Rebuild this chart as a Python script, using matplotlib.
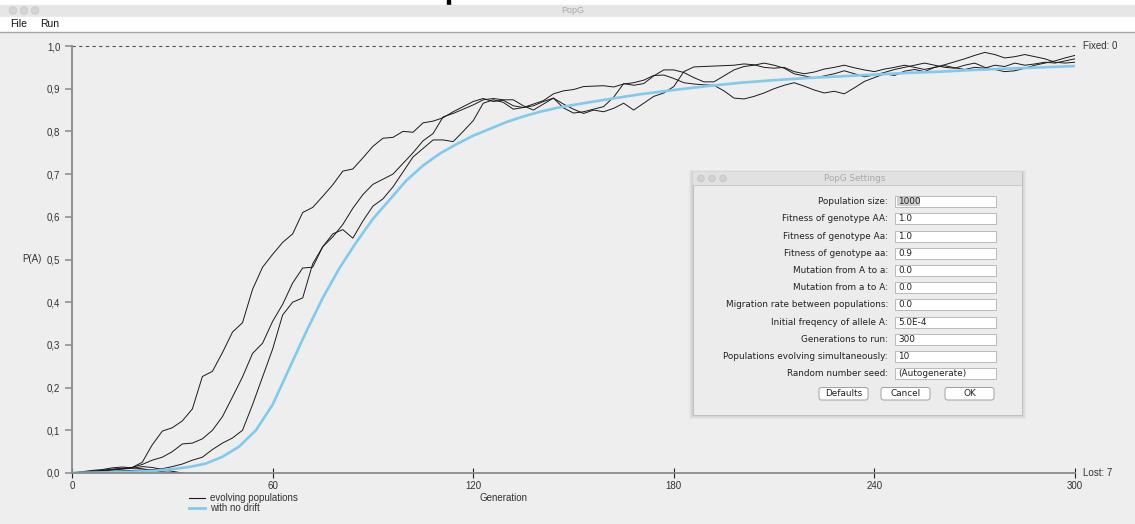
import matplotlib
matplotlib.use("Agg")
from matplotlib import pyplot as plt
from matplotlib.patches import Rectangle, FancyBboxPatch, Circle
from matplotlib.lines import Line2D

plt.rcParams['font.family'] = ['Liberation Sans', 'DejaVu Sans']

# --- values ---
generation = list(range(0, 301, 3))

pop_a = [0.0005, 0.002, 0.004, 0.006, 0.009, 0.011, 0.013, 0.025, 0.066, 0.098,
         0.106, 0.122, 0.150, 0.226, 0.238, 0.282, 0.330, 0.352, 0.430, 0.482,
         0.512, 0.540, 0.560, 0.610, 0.622, 0.648, 0.675, 0.707, 0.712, 0.738,
         0.765, 0.784, 0.786, 0.800, 0.798, 0.820, 0.824, 0.832, 0.846, 0.858,
         0.870, 0.877, 0.870, 0.873, 0.860, 0.856, 0.864, 0.872, 0.888, 0.895,
         0.898, 0.905, 0.906, 0.907, 0.904, 0.911, 0.914, 0.920, 0.931, 0.932,
         0.924, 0.914, 0.911, 0.909, 0.908, 0.895, 0.878, 0.876, 0.882, 0.890,
         0.900, 0.908, 0.914, 0.906, 0.897, 0.890, 0.894, 0.888, 0.902, 0.917,
         0.926, 0.935, 0.931, 0.941, 0.945, 0.940, 0.950, 0.954, 0.949, 0.945,
         0.950, 0.948, 0.955, 0.952, 0.960, 0.955, 0.958, 0.962, 0.960, 0.965,
         0.970]

pop_b = [0.0005, 0.002, 0.004, 0.006, 0.008, 0.010, 0.013, 0.020, 0.030, 0.037,
         0.050, 0.068, 0.070, 0.080, 0.100, 0.132, 0.178, 0.225, 0.280, 0.304,
         0.355, 0.395, 0.445, 0.480, 0.482, 0.530, 0.553, 0.582, 0.620, 0.652,
         0.676, 0.688, 0.700, 0.725, 0.750, 0.778, 0.795, 0.834, 0.842, 0.852,
         0.862, 0.874, 0.877, 0.874, 0.874, 0.860, 0.850, 0.864, 0.878, 0.864,
         0.852, 0.842, 0.850, 0.846, 0.854, 0.866, 0.850, 0.866, 0.882, 0.890,
         0.905, 0.940, 0.951, 0.952, 0.953, 0.954, 0.955, 0.958, 0.956, 0.950,
         0.948, 0.950, 0.940, 0.935, 0.939, 0.946, 0.950, 0.955, 0.949, 0.944,
         0.940, 0.946, 0.950, 0.955, 0.950, 0.945, 0.950, 0.956, 0.963, 0.970,
         0.978, 0.985, 0.980, 0.972, 0.975, 0.980, 0.975, 0.970, 0.962, 0.960,
         0.962]

pop_c = [0.0005, 0.001, 0.002, 0.003, 0.004, 0.005, 0.006, 0.007, 0.008, 0.010,
         0.015, 0.021, 0.030, 0.037, 0.055, 0.070, 0.082, 0.100, 0.160, 0.225,
         0.290, 0.370, 0.400, 0.410, 0.490, 0.530, 0.560, 0.570, 0.550, 0.590,
         0.625, 0.642, 0.670, 0.705, 0.740, 0.760, 0.780, 0.780, 0.776, 0.800,
         0.825, 0.866, 0.874, 0.868, 0.852, 0.856, 0.860, 0.870, 0.878, 0.855,
         0.843, 0.846, 0.852, 0.858, 0.880, 0.912, 0.908, 0.912, 0.930, 0.944,
         0.944, 0.938, 0.926, 0.916, 0.916, 0.930, 0.944, 0.952, 0.955, 0.960,
         0.955, 0.948, 0.935, 0.930, 0.925, 0.930, 0.935, 0.942, 0.935, 0.928,
         0.932, 0.938, 0.945, 0.950, 0.955, 0.960, 0.955, 0.950, 0.948, 0.955,
         0.960, 0.950, 0.945, 0.940, 0.942, 0.948, 0.955, 0.960, 0.965, 0.972,
         0.978]

# populations that lost the allele early on
lost_gen = [0, 3, 6, 9, 12, 15, 18, 21, 24, 27, 30, 33]
lost_1 = [0.0005, 0.003, 0.006, 0.008, 0.012, 0.014, 0.012, 0.010, 0.006, 0.003, 0.001, 0.0]
lost_2 = [0.0005, 0.001, 0.003, 0.005, 0.007, 0.009, 0.011, 0.015, 0.013, 0.008, 0.004, 0.0]

# deterministic curve (no drift)
nodrift_gen = [0, 5, 10, 15, 20, 25, 30, 35, 40, 45, 50, 55, 60, 65, 70, 75, 80, 85,
               90, 95, 100, 105, 110, 115, 120, 125, 130, 135, 140, 145, 150, 160,
               170, 180, 190, 200, 210, 220, 230, 240, 250, 260, 270, 280, 290, 300]
nodrift_p = [0.0005, 0.0008, 0.0013, 0.0022, 0.0035, 0.0055, 0.009, 0.014, 0.022,
             0.038, 0.062, 0.10, 0.16, 0.245, 0.33, 0.41, 0.48, 0.54, 0.595, 0.64,
             0.685, 0.72, 0.748, 0.77, 0.79, 0.806, 0.822, 0.835, 0.846, 0.855,
             0.862, 0.875, 0.887, 0.897, 0.906, 0.914, 0.920, 0.925, 0.929, 0.933,
             0.937, 0.940, 0.944, 0.947, 0.950, 0.953]

y_ticks = [0.0, 0.1, 0.2, 0.3, 0.4, 0.5, 0.6, 0.7, 0.8, 0.9, 1.0]
y_labels = ["0,0", "0,1", "0,2", "0,3", "0,4", "0,5", "0,6", "0,7", "0,8", "0,9", "1,0"]
x_ticks = [0, 60, 120, 180, 240, 300]
n_fixed = 0
n_lost = 7

setting_names = ["Population size:", "Fitness of genotype AA:", "Fitness of genotype Aa:",
                 "Fitness of genotype aa:", "Mutation from A to a:", "Mutation from a to A:",
                 "Migration rate between populations:", "Initial freqency of allele A:",
                 "Generations to run:", "Populations evolving simultaneously:",
                 "Random number seed:"]
setting_values = ["1000", "1.0", "1.0", "0.9", "0.0", "0.0", "0.0", "5.0E-4", "300", "10",
                  "(Autogenerate)"]
button_names = ["Defaults", "Cancel", "OK"]

W, H = 1135, 524
fig = plt.figure(figsize=(W / 100, H / 100), dpi=100, facecolor="#eeeeee")

# window chrome in pixel coordinates
bg = fig.add_axes([0, 0, 1, 1], zorder=0)
bg.set_xlim(0, W)
bg.set_ylim(H, 0)
bg.axis("off")
bg.add_patch(Rectangle((0, 0), W, 5, color="white"))
bg.add_patch(Rectangle((447, 0), 2.5, 5, color="black"))
bg.add_patch(Rectangle((0, 5), W, 12, color="#e6e6e6"))
for cx in (13, 24, 35):
    bg.add_patch(Circle((cx, 10.5), 3.8, fc="#d4d4d4", ec="#c6c6c6", lw=0.5))
bg.text(573, 10.5, "PopG", ha="center", va="center", fontsize=6.5, color="#a8a8a8")
bg.add_patch(Rectangle((0, 17), W, 14, color="white"))
bg.plot([0, W], [31.5, 31.5], color="#a6a6a6", lw=1)
bg.text(10, 24, "File", va="center", fontsize=7.5, color="#111111")
bg.text(40, 24, "Run", va="center", fontsize=7.5, color="#111111")
bg.text(480, 498, "Generation", va="center", fontsize=7, color="#333333")

# plot area
ax = fig.add_axes([72 / W, 1 - 473 / H, 1003 / W, 427 / H], zorder=1)
ax.patch.set_alpha(0)
ax.set_xlim(0, 300)
ax.set_ylim(0, 1)

for lg, lp in [(lost_gen, lost_1), (lost_gen, lost_2)]:
    ax.plot(lg, lp, color="#1a1a1a", lw=0.7)
for pop in (pop_a, pop_b, pop_c):
    ax.plot(generation, pop, color="#1a1a1a", lw=0.7)
ax.plot(nodrift_gen, nodrift_p, color="#82c9ec", lw=1.9)

ax.axhline(1.0, color="#555555", lw=0.8, ls=(0, (3, 3)), clip_on=False)

for side in ("top", "right"):
    ax.spines[side].set_visible(False)
for side in ("left", "bottom"):
    ax.spines[side].set_color("#8a8a8a")
    ax.spines[side].set_linewidth(1.3)

ax.set_yticks(y_ticks)
ax.set_yticklabels(y_labels)
ax.set_xticks(x_ticks)
ax.set_xticklabels([str(t) for t in x_ticks])
ax.tick_params(axis="y", direction="out", length=5, width=1.1, color="#8a8a8a",
               labelsize=7, labelcolor="#333333", pad=3.5)
ax.tick_params(axis="x", direction="inout", length=7, width=0.8, color="#222222",
               labelsize=7, labelcolor="#333333", pad=2)

ax.annotate("P(A)", xy=(0, 0.5), xytext=(-50, 0), textcoords="offset pixels",
            ha="left", va="center", fontsize=7, color="#333333")
ax.annotate(f"Fixed: {n_fixed}", xy=(300, 1.0), xytext=(8, 0), textcoords="offset pixels",
            ha="left", va="center", fontsize=7, color="#333333", annotation_clip=False)
ax.annotate(f"Lost: {n_lost}", xy=(300, 0.0), xytext=(8, 0), textcoords="offset pixels",
            ha="left", va="center", fontsize=7, color="#333333", annotation_clip=False)

handles = [Line2D([], [], color="#1a1a1a", lw=0.8), Line2D([], [], color="#82c9ec", lw=2.0)]
ax.legend(handles, ["evolving populations", "with no drift"], loc="upper left",
          bbox_to_anchor=(189 / W, 1 - 493 / H), bbox_transform=fig.transFigure,
          frameon=False, fontsize=7, handlelength=1.6, handletextpad=0.6,
          labelspacing=0.05, borderpad=0, borderaxespad=0, labelcolor="#333333")

# settings dialog on top
dl = fig.add_axes([0, 0, 1, 1], zorder=3)
dl.set_xlim(0, W)
dl.set_ylim(H, 0)
dl.axis("off")
dl.patch.set_alpha(0)
for k in range(4):
    dl.add_patch(Rectangle((693 - 4 + k, 172 - 2 + k * 0.5), 329 + 2 * (4 - k), 243 + 6 - k * 1.5,
                           fc="black", alpha=0.03, lw=0))
dl.add_patch(Rectangle((693, 172), 329, 243, fc="#ececec", ec="#c0c0c0", lw=0.7))
dl.add_patch(Rectangle((693, 172), 329, 13, fc="#e1e1e1", lw=0))
dl.plot([693, 1022], [185, 185], color="#c8c8c8", lw=0.7)
for cx in (701, 712, 723):
    dl.add_patch(Circle((cx, 178.5), 3.3, fc="#d2d2d2", ec="#c0c0c0", lw=0.5))
dl.text(855, 178.5, "PopG Settings", ha="center", va="center", fontsize=6.3,
        color="#a8a8a8", family="DejaVu Sans")

dfont = dict(fontsize=6.4, color="#222222", family="DejaVu Sans")
for i, (name, val) in enumerate(zip(setting_names, setting_values)):
    y = 201.7 + i * 17.2
    dl.text(888, y, name, ha="right", va="center", **dfont)
    dl.add_patch(Rectangle((895, y - 5.5), 101, 11, fc="white", ec="#b0b0b0", lw=0.6))
    if i == 0:
        dl.add_patch(Rectangle((896.5, y - 4.5), 23, 9, fc="#cfcfcf", lw=0))
    dl.text(898, y, val, ha="left", va="center", **dfont)

for (x0, w), name in zip([(819, 49), (881, 49), (945, 49)], button_names):
    dl.add_patch(FancyBboxPatch((x0, 387.5), w, 12.5, boxstyle="round,pad=0,rounding_size=2.5",
                                fc="white", ec="#a0a0a0", lw=0.7))
    dl.text(x0 + w / 2, 393.8, name, ha="center", va="center", **dfont)

plt.savefig("out.png", dpi=100, facecolor=fig.get_facecolor())
